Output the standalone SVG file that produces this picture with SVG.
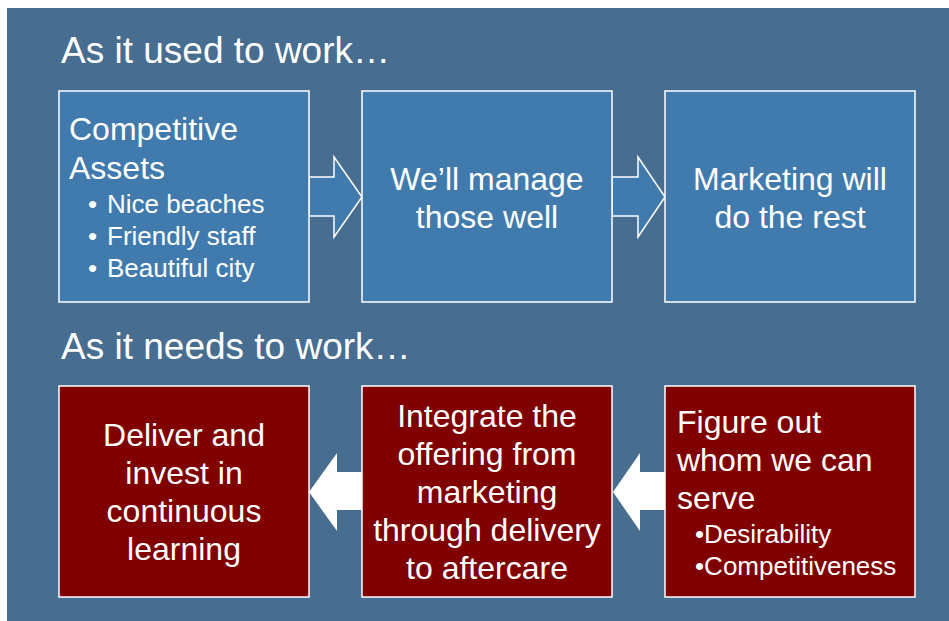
<svg xmlns="http://www.w3.org/2000/svg" width="949" height="621" viewBox="0 0 949 621">
  <style>
    .panel { fill: #476d90; }
    .old { fill: #417bae; stroke: #ffffff; stroke-width: 1.5; }
    .new { fill: #800000; stroke: #ffffff; stroke-width: 1.5; }
    .arrow-old { fill: #417bae; stroke: #ffffff; stroke-width: 1.5; stroke-linejoin: miter; }
    .arrow-new { fill: #ffffff; }
    text { font-family: "Liberation Sans", Arial, sans-serif; fill: #ffffff; }
    .title { font-size: 37px; }
    .big { font-size: 32px; }
    .small { font-size: 26px; }
    .mid { text-anchor: middle; }
  </style>

  <rect x="0" y="0" width="949" height="621" fill="#ffffff"/>
  <rect class="panel" x="7" y="8" width="942" height="613"/>

  <text class="title" x="61" y="63">As it used to work…</text>
  <text class="title" x="61" y="359">As it needs to work…</text>

  <g id="connectors">
    <path class="arrow-old" d="M309,177 H334 V157 L362,197 L334,237 V216 H309 Z"/>
    <path class="arrow-old" d="M612,177 H638 V157 L665,197 L638,237 V216 H612 Z"/>
    <path class="arrow-new" d="M362,472 H337 V453 L309,492 L337,531 V510 H362 Z"/>
    <path class="arrow-new" d="M665,472 H640 V453 L613,492 L640,531 V510 H665 Z"/>
  </g>

  <g id="competitive-assets">
    <rect class="old" x="59" y="91" width="250" height="211"/>
    <text class="big" x="69" y="140">Competitive</text>
    <text class="big" x="69" y="179">Assets</text>
    <text class="small" x="88" y="213">•</text>
    <text class="small" x="107" y="213">Nice beaches</text>
    <text class="small" x="88" y="245">•</text>
    <text class="small" x="107" y="245">Friendly staff</text>
    <text class="small" x="88" y="277">•</text>
    <text class="small" x="107" y="277">Beautiful city</text>
  </g>

  <g id="manage-well">
    <rect class="old" x="362" y="91" width="250" height="211"/>
    <text class="big mid" x="487" y="190">We’ll manage</text>
    <text class="big mid" x="487" y="228">those well</text>
  </g>

  <g id="marketing">
    <rect class="old" x="665" y="91" width="250" height="211"/>
    <text class="big mid" x="790" y="190">Marketing will</text>
    <text class="big mid" x="790" y="228">do the rest</text>
  </g>

  <g id="deliver-invest">
    <rect class="new" x="59" y="386" width="250" height="211"/>
    <text class="big mid" x="184" y="446">Deliver and</text>
    <text class="big mid" x="184" y="484">invest in</text>
    <text class="big mid" x="184" y="522">continuous</text>
    <text class="big mid" x="184" y="560">learning</text>
  </g>

  <g id="integrate-offering">
    <rect class="new" x="362" y="386" width="250" height="211"/>
    <text class="big mid" x="487" y="427">Integrate the</text>
    <text class="big mid" x="487" y="465">offering from</text>
    <text class="big mid" x="487" y="503">marketing</text>
    <text class="big mid" x="487" y="541">through delivery</text>
    <text class="big mid" x="487" y="579">to aftercare</text>
  </g>

  <g id="figure-out">
    <rect class="new" x="665" y="386" width="250" height="211"/>
    <text class="big" x="677" y="433">Figure out</text>
    <text class="big" x="677" y="471">whom we can</text>
    <text class="big" x="677" y="509">serve</text>
    <text class="small" x="695" y="543">•Desirability</text>
    <text class="small" x="695" y="575">•Competitiveness</text>
  </g>
</svg>
